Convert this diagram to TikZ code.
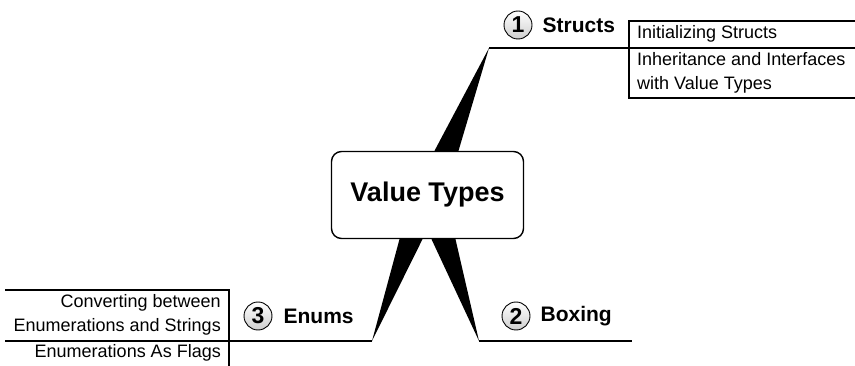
\documentclass[tikz,border=0pt]{standalone}
\usepackage{fontspec}
\setmainfont{Liberation Sans}
\usetikzlibrary{positioning,calc,backgrounds}

\begin{document}
\begin{tikzpicture}[x=1pt,y=-1pt]
  \tikzset{topic/.style = {shape=rectangle,draw,rounded corners=10pt,line width=1.4pt,fill=white,minimum width=192pt,minimum height=87pt,font=\fontsize{27}{30}\selectfont\bfseries}}
  \tikzset{badge/.style = {shape=circle,draw,line width=0.9pt,minimum size=28pt,inner sep=0pt,top color=white,bottom color=gray!38,font=\fontsize{23}{24}\selectfont\bfseries}}
  \tikzset{branch/.style = {inner sep=0pt,font=\fontsize{21}{24}\selectfont\bfseries}}
  \tikzset{leaf/.style = {inner sep=0pt,font=\fontsize{18}{24}\selectfont}}
  \tikzset{rule/.style = {line width=1.5pt}}
  \tikzset{frame/.style = {line width=1.2pt}}

  \useasboundingbox (0,0) rectangle (855,366);

	\node[topic] (VT) at (427.5,195) {Value Types};

	\coordinate (ST) at (489,48);
	\coordinate (BT) at (479,341);
	\coordinate (ET) at (372,341);

	\begin{scope}[on background layer]
    \foreach \foot/\tip/\a/\b in {north/ST/7/31, south/ET/-28/-5, south/BT/4/28}
    \fill ($(VT.\foot)+(\a,0)$) -- (\tip) -- ($(VT.\foot)+(\b,0)$) -- cycle;
	\end{scope}

	\node[badge] (N1) at (518,25) {1};
	\node[branch, right=10pt of N1] (structs) {Structs};
	\node[badge] (N2) at (516,316) {2};
	\node[branch, right=10pt of N2] (boxing) {Boxing};
	\node[badge] (N3) at (258,316) {3};
	\node[branch, right=11pt of N3] (enums) {Enums};

	\node[leaf, anchor=west] (init) at (637,34) {Initializing Structs};
	\node[leaf, anchor=west, align=left] (inherit) at (637,73) {Inheritance and Interfaces\\with Value Types};
	\node[leaf, anchor=east, align=right] (convert) at (221,315) {Converting between\\Enumerations and Strings};
	\node[leaf, anchor=east] (flags) at (221,353) {Enumerations As Flags};

	\coordinate (SL) at (629,48);
	\coordinate (EL) at (229,341);

	\draw[rule] (ST) -- (SL);
	\draw[rule] (BT) -- (632,341);
	\draw[rule] (ET) -- (EL);

	\draw[frame] (855,21) -| (629,98) -- (855,98);
	\draw[frame] (SL) -- (855,48);
	\draw[frame] (5,290) -| (229,366);
	\draw[frame] (EL) -- (5,341);

\end{tikzpicture}
\end{document}
